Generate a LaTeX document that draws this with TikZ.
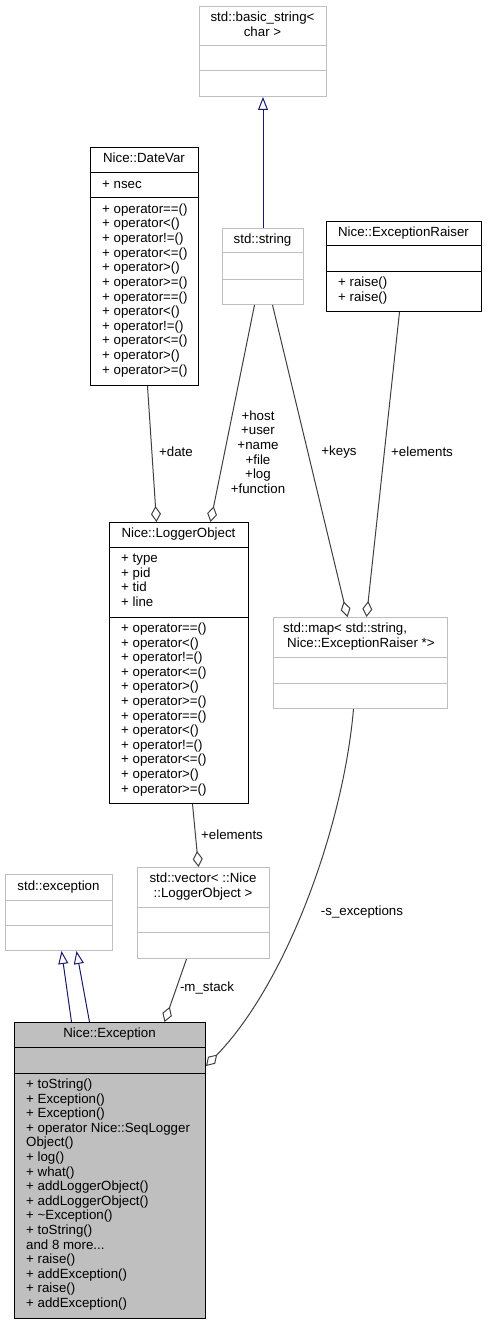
\documentclass[tikz,border=0pt]{standalone}
\usepackage{fontspec}
\setmainfont{Liberation Sans}
\usetikzlibrary{arrows.meta}
\definecolor{undoc}{HTML}{BFBFBF}
\definecolor{usage}{HTML}{404040}
\definecolor{inherit}{HTML}{191970}

\begin{document}
\begin{tikzpicture}[x=1pt,y=-1pt,
	font=\fontsize{13.3}{14.6}\selectfont,
	docbox/.style={draw=black,line width=1pt,anchor=north west,inner sep=0pt},
	undocbox/.style={draw=undoc,line width=1pt,anchor=north west,inner sep=0pt},
	member/.style={anchor=west,inner sep=0pt,text height=9.6pt,text depth=2.8pt},
	boxtitle/.style={member,anchor=center},
	elabel/.style={align=center,inner sep=0pt},
	aggr/.style={draw=usage,line width=1pt,-{Diamond[open,length=16pt,width=10pt]}},
	inh/.style={draw=inherit,line width=1pt,-{Triangle[open,length=13pt,width=10pt]}}]
	\useasboundingbox (0,0) rectangle (487,1324);
	
	% std::basic_string< char >
	\node[undocbox,minimum width=127pt,minimum height=90pt] (bstr) at (199,6) {};
	\draw[undoc,line width=1pt] (bstr.west |- 0,46) -- (bstr.east |- 0,46);
	\draw[undoc,line width=1pt] (bstr.west |- 0,71) -- (bstr.east |- 0,71);
	\node[boxtitle] (bstr-t1) at (262.5,18) {std::basic\_string<};
	\node[boxtitle] (bstr-t2) at (262.5,33) {char >};
	
	% Nice::DateVar
	\node[docbox,minimum width=108pt,minimum height=238pt] (dv) at (90,147) {};
	\draw[line width=1pt] (dv.west |- 0,173) -- (dv.east |- 0,173);
	\draw[line width=1pt] (dv.west |- 0,198) -- (dv.east |- 0,198);
	\node[boxtitle] (dv-t) at (144,159) {Nice::DateVar};
	\node[member] (dv-a) at (102,185) {+ nsec};
	\foreach \m [count=\i from 0] in {+ operator==(),+ operator<(),+ operator!=(),
		+ operator<=(),+ operator>(),+ operator>=(),+ operator==(),+ operator<(),
		+ operator!=(),+ operator<=(),+ operator>(),+ operator>=()}
		\node[member] (dv-\i) at (102,{210+14.6*\i}) {\m};
	
	% std::string
	\node[undocbox,minimum width=81pt,minimum height=76pt] (str) at (222,228) {};
	\draw[undoc,line width=1pt] (str.west |- 0,253) -- (str.east |- 0,253);
	\draw[undoc,line width=1pt] (str.west |- 0,279) -- (str.east |- 0,279);
	\node[boxtitle] (str-t) at (262.5,240) {std::string};
	
	% Nice::ExceptionRaiser
	\node[docbox,minimum width=155pt,minimum height=90pt] (er) at (326,221) {};
	\draw[line width=1pt] (er.west |- 0,246) -- (er.east |- 0,246);
	\draw[line width=1pt] (er.west |- 0,271) -- (er.east |- 0,271);
	\node[boxtitle] (er-t) at (403.5,233) {Nice::ExceptionRaiser};
	\node[member] (er-0) at (338,283) {+ raise()};
	\node[member] (er-1) at (338,297.6) {+ raise()};
	
	% Nice::LoggerObject
	\node[docbox,minimum width=139pt,minimum height=281pt] (lo) at (109,522) {};
	\draw[line width=1pt] (lo.west |- 0,547) -- (lo.east |- 0,547);
	\draw[line width=1pt] (lo.west |- 0,617) -- (lo.east |- 0,617);
	\node[boxtitle] (lo-t) at (178.5,534) {Nice::LoggerObject};
	\foreach \m [count=\i from 0] in {+ type,+ pid,+ tid,+ line}
		\node[member] (lo-a\i) at (121,{559+14.6*\i}) {\m};
	\foreach \m [count=\i from 0] in {+ operator==(),+ operator<(),+ operator!=(),
		+ operator<=(),+ operator>(),+ operator>=(),+ operator==(),+ operator<(),
		+ operator!=(),+ operator<=(),+ operator>(),+ operator>=()}
		\node[member] (lo-\i) at (121,{629+14.6*\i}) {\m};
	
	% std::map< std::string, Nice::ExceptionRaiser *>
	\node[undocbox,minimum width=174pt,minimum height=91pt] (mp) at (273,617) {};
	\draw[undoc,line width=1pt] (mp.west |- 0,657) -- (mp.east |- 0,657);
	\draw[undoc,line width=1pt] (mp.west |- 0,683) -- (mp.east |- 0,683);
	\node[member] (mp-t1) at (283,629) {std::map< std::string,};
	\node[member] (mp-t2) at (287,644) {Nice::ExceptionRaiser *>};
	
	% std::exception
	\node[undocbox,minimum width=107pt,minimum height=76pt] (sx) at (5,874) {};
	\draw[undoc,line width=1pt] (sx.west |- 0,900) -- (sx.east |- 0,900);
	\draw[undoc,line width=1pt] (sx.west |- 0,925) -- (sx.east |- 0,925);
	\node[boxtitle] (sx-t) at (58.5,887) {std::exception};
	
	% std::vector< ::Nice::LoggerObject >
	\node[undocbox,minimum width=132pt,minimum height=91pt] (vec) at (137,867) {};
	\draw[undoc,line width=1pt] (vec.west |- 0,907) -- (vec.east |- 0,907);
	\draw[undoc,line width=1pt] (vec.west |- 0,932) -- (vec.east |- 0,932);
	\node[boxtitle] (vec-t1) at (203,879) {std::vector< ::Nice};
	\node[boxtitle] (vec-t2) at (203,894) {::LoggerObject >};
	
	% Nice::Exception
	\node[docbox,fill=undoc,minimum width=191pt,minimum height=296pt] (ex) at (14,1022) {};
	\draw[line width=1pt] (ex.west |- 0,1047) -- (ex.east |- 0,1047);
	\draw[line width=1pt] (ex.west |- 0,1073) -- (ex.east |- 0,1073);
	\node[boxtitle] (ex-t) at (109.5,1034) {Nice::Exception};
	\foreach \m [count=\i from 0] in {+ toString(),+ Exception(),+ Exception(),
		+ operator Nice::SeqLogger,Object(),+ log(),+ what(),+ addLoggerObject(),
		+ addLoggerObject(),+ \textasciitilde Exception(),+ toString(),and 8 more{.}{.}{.},
		+ raise(),+ addException(),+ raise(),+ addException()}
		\node[member] (ex-\i) at (26,{1085+14.6*\i}) {\m};
	
	% inheritance
	\draw[inh] (str.north) -- (bstr.south);
	\draw[inh] ([xshift=-38.5pt]ex.north) -- ([xshift=2.5pt]sx.south);
	\draw[inh] ([xshift=-20.5pt]ex.north) -- ([xshift=17.5pt]sx.south);
	
	% usage
	\draw[aggr] ([xshift=3pt]dv.south) -- ([xshift=-22.5pt]lo.north);
	\draw[aggr] ([xshift=-8.5pt]str.south) -- ([xshift=31.5pt]lo.north);
	\draw[aggr] ([xshift=9.5pt]str.south) -- ([xshift=-13pt]mp.north);
	\draw[aggr] ([xshift=-4.5pt]er.south) -- ([xshift=6pt]mp.north);
	\draw[aggr] ([xshift=13.5pt]lo.south) -- ([xshift=-5pt]vec.north);
	\draw[aggr] ([xshift=-17pt]vec.south) -- ([xshift=54.5pt]ex.north);
	\draw[aggr] ([xshift=-7pt]mp.south) .. controls (343,830) and (285,985) .. (ex.east |- 0,1066);
	
	\node[elabel] (l-date) at (176,452) {+date};
	\node[elabel] (l-str) at (258,452) {+host\\+user\\+name\\+file\\+log\\+function};
	\node[elabel] (l-keys) at (339,452) {+keys};
	\node[elabel] (l-elem) at (422,452) {+elements};
	\node[elabel] (l-elem2) at (232,835) {+elements};
	\node[elabel] (l-stack) at (207,988) {-m\_stack};
	\node[elabel] (l-sexc) at (362,912) {-s\_exceptions};
\end{tikzpicture}
\end{document}
